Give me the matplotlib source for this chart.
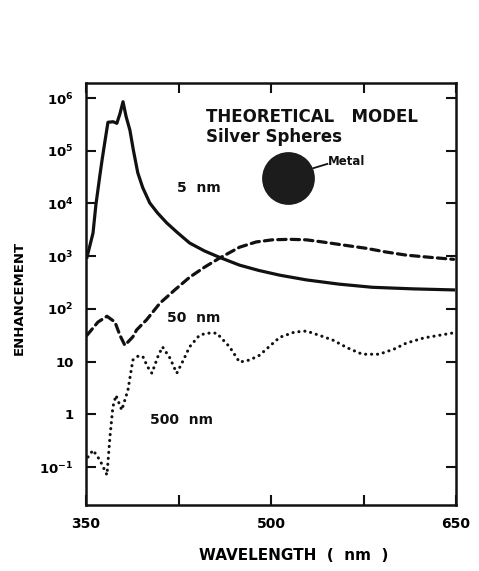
import matplotlib
matplotlib.use("Agg")
import matplotlib.pyplot as plt
import numpy as np

plt.rcParams['font.family'] = ['DejaVu Sans']
plt.rcParams['mathtext.fontset'] = 'custom'
plt.rcParams['mathtext.rm'] = 'DejaVu Sans:bold'
plt.rcParams['mathtext.it'] = 'DejaVu Sans:bold'
plt.rcParams['mathtext.bf'] = 'DejaVu Sans:bold'

# ---- data (wavelength nm, log10 enhancement) ----
wl_5nm = [350.8, 355.7, 358, 361.3, 363, 365.5, 367.8, 372, 375, 377.5, 380, 382.5,
          385.6, 388.5, 392, 396, 401.7, 408, 415.5, 424, 434, 446, 458, 474.5, 490,
          507, 528.7, 555, 582, 615, 648]
log_5nm = [2.98, 3.44, 3.97, 4.54, 4.82, 5.20, 5.54, 5.55, 5.52, 5.70, 5.93, 5.65,
           5.39, 5.00, 4.58, 4.30, 4.01, 3.82, 3.63, 3.45, 3.25, 3.10, 2.98, 2.83, 2.73,
           2.64, 2.55, 2.47, 2.41, 2.38, 2.36]

wl_50nm = [350.8, 359.7, 367, 373.5, 377.5, 381.5, 388, 391, 399, 410, 422, 434, 446,
           458, 474.5, 488, 501, 515, 528.7, 541.6, 559, 577, 593, 609.6, 628, 648]
log_50nm = [1.50, 1.75, 1.86, 1.75, 1.50, 1.31, 1.47, 1.60, 1.79, 2.11, 2.36, 2.60, 2.79,
            2.96, 3.17, 3.27, 3.31, 3.32, 3.31, 3.27, 3.21, 3.15, 3.08, 3.02, 2.98, 2.94]

wl_500nm = [351.6, 355.7, 361.3, 367, 369.4, 371.8, 374.3, 379, 384, 388, 392, 396, 400,
            403.4, 408.2, 412, 418, 423.6, 429, 434, 442, 448, 456, 466.4, 474.5, 482.6,
            490.7, 498.8, 507, 519, 528.7, 539, 550, 562, 574, 587.7, 600, 609.6, 624, 646.7]
log_500nm = [-0.81, -0.68, -0.87, -1.15, -0.43, 0.14, 0.36, 0.08, 0.46, 1.03, 1.10, 1.10, 0.90,
             0.78, 1.09, 1.28, 1.07, 0.78, 1.03, 1.28, 1.50, 1.54, 1.54, 1.28, 0.99, 1.03,
             1.12, 1.29, 1.46, 1.56, 1.58, 1.50, 1.41, 1.26, 1.14, 1.14, 1.24, 1.35, 1.45, 1.54]

ytick_vals = [1e-1, 1, 10, 1e2, 1e3, 1e4, 1e5, 1e6]
ytick_labels = [r'$10^{-1}$', '1', '10', r'$10^{2}$', r'$10^{3}$', r'$10^{4}$',
                r'$10^{5}$', r'$10^{6}$']
xtick_major = [350, 500, 650]
xtick_minor = [425, 575]

fig = plt.figure(figsize=(4.79, 5.71), dpi=100)
ax = fig.add_axes([86/479, 66/571, 370/479, 422/571])

ink = '#111111'
ax.plot(wl_5nm, 10**np.array(log_5nm), color=ink, lw=2.3, solid_joinstyle='round')
ax.plot(wl_50nm, 10**np.array(log_50nm), color=ink, lw=2.3, dashes=(2.6, 1.6),
        dash_capstyle='round')
ax.plot(wl_500nm, 10**np.array(log_500nm), color=ink, lw=2.2, dashes=(0.05, 1.9),
        dash_capstyle='round')

ax.set_yscale('log')
ax.set_xlim(350, 650)
ax.set_ylim(10**-1.72, 10**6.285)

ax.set_xticks(xtick_major)
ax.set_xticks(xtick_minor, minor=True)
ax.set_xticklabels([str(v) for v in xtick_major], fontsize=10, fontweight='bold')
ax.set_yticks(ytick_vals)
ax.set_yticklabels(ytick_labels, fontsize=9.5, fontweight='bold')
ax.yaxis.set_minor_locator(matplotlib.ticker.NullLocator())
ax.tick_params(axis='both', which='both', direction='in', length=7, width=1.5,
               top=True, right=True, color=ink)
ax.tick_params(axis='x', which='major', pad=8.5)
ax.tick_params(axis='y', which='major', pad=9)
for s in ax.spines.values():
    s.set_linewidth(1.8)
    s.set_color(ink)

ax.set_xlabel('WAVELENGTH  (  nm  )', fontsize=11, fontweight='bold')
ax.xaxis.set_label_coords(0.56, -0.101)
ax.set_ylabel('ENHANCEMENT', fontsize=9.5, fontweight='bold')
ax.yaxis.set_label_coords(-0.162, 0.49)

# annotations
ax.text(447, 10**5.64, 'THEORETICAL   MODEL', fontsize=12, fontweight='bold',
        va='center', ha='left', color=ink)
ax.text(447, 10**5.26, 'Silver Spheres', fontsize=12, fontweight='bold',
        va='center', ha='left', color=ink)
ax.text(423.6, 10**4.29, '5  nm', fontsize=10, fontweight='bold', va='center', color=ink)
ax.text(415.5, 10**1.83, '50  nm', fontsize=10, fontweight='bold', va='center', color=ink)
ax.text(401.7, 10**-0.11, '500  nm', fontsize=10, fontweight='bold', va='center', color=ink)

ax.plot([514], [10**4.48], marker='o', markersize=38, color='#1c1c1c', markeredgewidth=0)
ax.plot([534.4, 545.7], [10**4.67, 10**4.75], color=ink, lw=1.3)
ax.text(546.5, 10**4.79, 'Metal', fontsize=8.5, fontweight='bold', va='center', color=ink)

fig.savefig('out.png', dpi=100)
